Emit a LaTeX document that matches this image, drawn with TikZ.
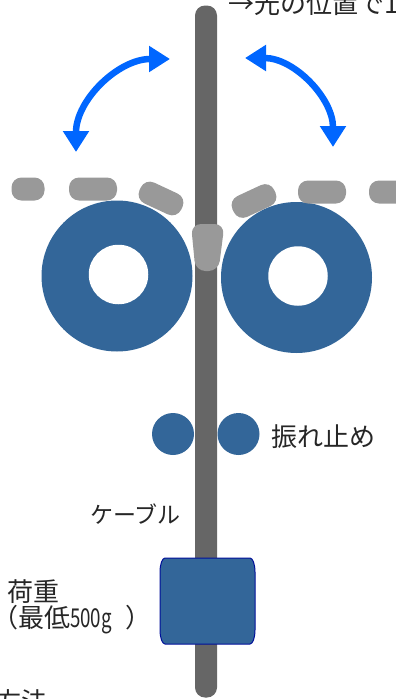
\documentclass[tikz,border=0pt]{standalone}
\usepackage{fontspec}
\newfontfamily\cjk{Noto Sans CJK JP}
\usepackage{tikz}
\usetikzlibrary{arrows.meta}

\definecolor{wheelblue}{HTML}{336699}
\definecolor{cablegray}{HTML}{666666}
\definecolor{padgray}{HTML}{999999}
\definecolor{swingblue}{HTML}{0066FF}
\definecolor{edgeblue}{HTML}{000F99}

\begin{document}
\begin{tikzpicture}[x=1pt,y=-1pt]
  \tikzset{WheelStyle/.style = {
    shape         = circle,
    fill          = wheelblue,
    inner sep     = 0pt,
    outer sep     = 0pt
    }
  }
  \tikzset{HoleStyle/.style = {
    shape         = circle,
    fill          = white,
    inner sep     = 0pt,
    minimum size  = 59.5pt
    }
  }
  \tikzset{PadStyle/.style = {
    shape         = rectangle,
    rounded corners = 10pt,
    fill          = padgray,
    inner sep     = 0pt,
    minimum height = 23pt
    }
  }
  \tikzset{SwingStyle/.style = {
    draw          = swingblue,
    line width    = 6.5pt,
    {Triangle[width=25pt,length=21pt]}-{Triangle[width=25pt,length=21pt]}
    }
  }
  \tikzset{LabelStyle/.style = {
    font          = \cjk\fontsize{26}{28}\selectfont,
    text          = black!85,
    inner sep     = 0pt,
    align         = left
    }
  }

  \useasboundingbox (0,0) rectangle (396,699);
  \clip (0,0) rectangle (396,699);

  % cable
  \node[fill=cablegray, rounded corners=10pt, minimum width=22pt, minimum height=692pt, inner sep=0pt](Cable) at (206,351.5) {};

  % wheels
  \node[WheelStyle, minimum size=151pt](WheelL) at (117,276) {};
  \node[HoleStyle](HoleL) at (118.5,274.5) {};
  \node[WheelStyle, minimum size=151pt](WheelR) at (296.5,277.5) {};
  \node[HoleStyle](HoleR) at (298,276) {};
  \node[WheelStyle, minimum size=42pt](StopL) at (173,434) {};
  \node[WheelStyle, minimum size=42pt](StopR) at (238.5,434) {};

  % pads
  \node[PadStyle, minimum width=33pt](PadA) at (28,189) {};
  \node[PadStyle, minimum width=48pt](PadB) at (93,189) {};
  \node[PadStyle, minimum width=46pt, rotate=-25](PadC) at (161,198.5) {};
  \node[PadStyle, minimum width=46pt, rotate=25](PadD) at (254,201) {};
  \node[PadStyle, minimum width=48pt](PadE) at (322,192) {};
  \node[PadStyle, minimum width=42pt](PadF) at (390,192) {};
  \fill[padgray, rounded corners=10pt] (191,224) -- (224.5,224) -- (218.5,271) -- (195.5,271) -- cycle;

  % weight
  \draw[draw=edgeblue, fill=wheelblue, line width=1pt]
    (165,558) -- (250,558) arc[start angle=-90, end angle=0, x radius=5, y radius=14]
    -- (255,630) arc[start angle=0, end angle=90, x radius=5, y radius=14]
    -- (165,644) arc[start angle=90, end angle=180, x radius=5, y radius=14]
    -- (160,572) arc[start angle=180, end angle=270, x radius=5, y radius=14] -- cycle;

  % swing arrows
  \coordinate (ArrL1) at (76,152);
  \coordinate (ArrL2) at (170,59);
  \coordinate (ArrR1) at (245,58);
  \coordinate (ArrR2) at (333,147);
  \draw[SwingStyle] (ArrL1) to[out=90, in=180] (ArrL2);
  \draw[SwingStyle] (ArrR1) to[out=0, in=90] (ArrR2);

  % labels
  \node[LabelStyle, anchor=west](TopText) at (228,3.5) {→光の位置で1};
  \node[LabelStyle, anchor=west](StopText) at (271,437) {振れ止め};
  \node[LabelStyle, anchor=west, font=\cjk\fontsize{23}{25}\selectfont](CableText) at (90,514) {ケーブル};
  \node[LabelStyle, anchor=west](WeightText) at (7,591.5) {荷重};
  \node[LabelStyle, anchor=west](MinText) at (-8,620) {（最低\scalebox{0.72}[1]{500g}\hspace*{14pt}）};
  \node[LabelStyle, anchor=west](BottomText) at (-5,702) {方法};
\end{tikzpicture}
\end{document}
